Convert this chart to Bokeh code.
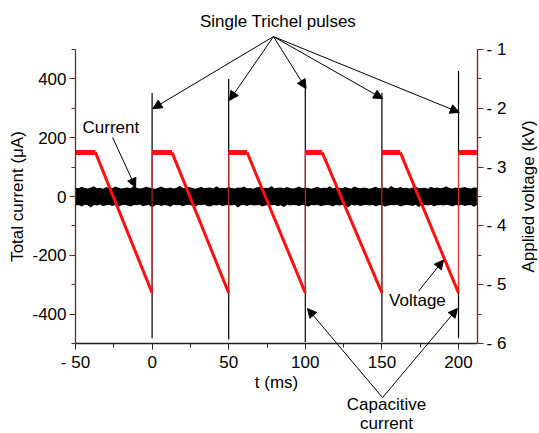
import math
from bokeh.plotting import figure
from bokeh.models import (Range1d, LinearAxis, FixedTicker, Label, Arrow, NormalHead)
from bokeh.embed import file_html
from bokeh.resources import INLINE

# ---------------- data ----------------
# current noise envelope (µA), sampled every 2 ms from -50 ms
noise_t = list(range(-50, 214, 2))
noise_upper = [
    30, 28, 33, 29, 27, 31, 35, 28, 30, 26, 32, 29,
    28, 34, 30, 27, 29, 31, 28, 36, 30, 27, 29, 33,
    31, 28, 26, 30, 34, 29, 28, 31, 27, 30, 37, 29,
    28, 32, 30, 26, 29, 33, 28, 30, 31, 27, 35, 29,
    30, 28, 32, 29, 27, 31, 30, 34, 28, 29, 26, 31,
    33, 28, 30, 29, 36, 27, 30, 31, 28, 32, 29, 27,
    30, 34, 28, 31, 29, 26, 30, 33, 28, 30, 29, 35,
    27, 31, 30, 28, 32, 29, 27, 34, 30, 28, 31, 29,
    26, 30, 33, 28, 29, 31, 27, 36, 30, 28, 32, 29,
    30, 27, 31, 34, 28, 29, 30, 26, 33, 29, 31, 28,
    30, 35, 29, 27, 31, 28, 30, 32, 29, 27, 31, 30]
noise_lower = [
    -31, -29, -34, -28, -30, -37, -29, -31, -27, -33, -30, -28,
    -32, -29, -36, -30, -28, -31, -34, -29, -30, -27, -33, -31,
    -29, -38, -30, -28, -32, -29, -31, -35, -28, -30, -29, -33,
    -30, -28, -31, -36, -29, -30, -27, -32, -34, -29, -31, -28,
    -33, -30, -29, -31, -28, -37, -30, -29, -32, -28, -31, -30,
    -29, -34, -31, -28, -30, -29, -33, -30, -36, -28, -31, -29,
    -30, -32, -28, -31, -35, -29, -30, -28, -33, -31, -29, -30,
    -34, -28, -31, -29, -30, -37, -28, -31, -29, -32, -30, -28,
    -31, -29, -33, -30, -28, -35, -31, -29, -30, -28, -34, -31,
    -29, -30, -32, -28, -36, -30, -29, -31, -28, -33, -30, -29,
    -31, -28, -30, -34, -29, -31, -28, -32, -30, -29, -35, -30]
noise_upper = noise_upper[:len(noise_t)]
noise_lower = noise_lower[:len(noise_t)]

# single Trichel pulses (ms, µA)
pulse_t = [0, 50, 100, 150, 200]
pulse_top = [352, 400, 369, 352, 427]
pulse_bottom = [-482, -486, -495, -495, -482]

# applied voltage (kV) - plateau then linear ramp in each period
period_start = [-50, 0, 50, 100, 150, 200]
flat_end = [-37, 13, 62, 111, 162, 212]
v_plateau = [2.75, 2.75, 2.75, 2.75, 2.75, 2.75]
ramp_end = [0, 50, 100, 150, 200]
v_ramp_end = [5.14, 5.14, 5.14, 5.14, 5.14]

# axes
t_min, t_max = -50, 212.4
i_min, i_max = -500, 500
v_top, v_bottom = 1, 6
x_ticks = [-50, 0, 50, 100, 150, 200]
x_minor = [-25, 25, 75, 125, 175]
x_tick_labels = ["- 50", "0", "50", "100", "150", "200"]
y_ticks = [-400, -200, 0, 200, 400]
y_minor = [-500, -300, -100, 100, 300, 500]
y_tick_labels = ["-400", "-200", "0", "200", "400"]
v_ticks = [1, 2, 3, 4, 5, 6]
v_minor = [1.5, 2.5, 3.5, 4.5, 5.5]
v_tick_labels = ["- 1", "- 2", "- 3", "- 4", "- 5", "- 6"]

FONT = "Liberation Sans"
FS = "17px"

# the frame covers the whole canvas; the axes sit at fixed data locations
p = figure(width=539, height=433, output_backend="svg", toolbar_location=None,
           x_range=Range1d(-98.96, 252.87), y_range=Range1d(-806.1, 666.7),
           min_border_left=0, min_border_right=0, min_border_top=0,
           min_border_bottom=0)
p.outline_line_color = None
p.grid.visible = False
p.background_fill_color = "white"
p.border_fill_color = "white"

p.extra_y_ranges = {"volt": Range1d(7.5305, 0.1665)}
raxis = LinearAxis(y_range_name="volt")
p.add_layout(raxis, "right")

def style_axis(ax, color):
    ax.axis_line_color = color
    ax.axis_line_width = 1.3
    ax.major_tick_line_color = color
    ax.minor_tick_line_color = color
    ax.major_tick_out = 6
    ax.major_tick_in = 0
    ax.minor_tick_out = 4
    ax.minor_tick_in = 0
    ax.major_label_text_font = FONT
    ax.major_label_text_font_size = FS
    ax.major_label_text_color = "black"

xa, ya = p.xaxis[0], p.yaxis[0]
style_axis(xa, "#222222")
style_axis(ya, "#5e2a2a")
style_axis(raxis, "#7d1f2a")

xa.fixed_location = i_min
xa.bounds = (t_min, t_max)
ya.fixed_location = t_min
ya.bounds = (i_min, i_max)
raxis.fixed_location = t_max
raxis.bounds = (v_top, v_bottom)

xa.ticker = FixedTicker(ticks=x_ticks, minor_ticks=x_minor)
xa.major_label_overrides = dict(zip(x_ticks, x_tick_labels))
ya.ticker = FixedTicker(ticks=y_ticks, minor_ticks=y_minor)
ya.major_label_overrides = dict(zip(y_ticks, y_tick_labels))
raxis.ticker = FixedTicker(ticks=v_ticks, minor_ticks=v_minor)
raxis.major_label_overrides = dict(zip(v_ticks, v_tick_labels))
xa.major_label_standoff = 3
ya.major_label_standoff = 3
raxis.major_label_standoff = 3

# current noise band
p.varea(x=noise_t, y1=noise_lower, y2=noise_upper, fill_color="black")

# pulses
p.segment(x0=pulse_t, y0=pulse_bottom, x1=pulse_t, y1=pulse_top,
          line_color="black", line_width=1.2)

# voltage: thin vertical jumps
p.segment(x0=ramp_end, y0=v_ramp_end, x1=ramp_end, y1=v_plateau[1:],
          line_color="#d83030", line_width=1, y_range_name="volt")
# plateaus
p.segment(x0=period_start, y0=v_plateau, x1=flat_end, y1=v_plateau,
          line_color="#ff1010", line_width=5, y_range_name="volt")
# ramps
p.segment(x0=flat_end[:-1], y0=v_plateau[:-1], x1=ramp_end, y1=v_ramp_end,
          line_color="#ff1010", line_width=3, y_range_name="volt")

# annotations
def lab(x, y, text, align="center", angle=0.0):
    p.add_layout(Label(x=x, y=y, text=text, text_font=FONT, text_font_size=FS,
                       text_align=align, text_baseline="middle", text_color="black",
                       angle=angle))

def arr(x0, y0, x1, y1):
    p.add_layout(Arrow(x_start=x0, y_start=y0, x_end=x1, y_end=y1,
                       line_color="black", line_width=1,
                       end=NormalHead(size=9, fill_color="black", line_color="black")))

# axis titles
lab(81.2, -633, "t (ms)")
lab(-87.9, 0, "Total current (\u03bcA)", angle=math.pi / 2)
lab(245.7, 0, "Applied voltage (kV)", angle=math.pi / 2)

lab(82.2, 595, "Single Trichel pulses")
trichel_end_y = [299, 327, 367, 333, 286]
for t, yy in zip(pulse_t, trichel_end_y):
    arr(79.2, 544, t + 0.5, yy)

lab(-45.4, 235, "Current", align="left")
arr(-25.8, 201, -10.8, 31)

lab(173.2, -354, "Voltage")
arr(173.9, -322, 190.2, -216)

lab(153.0, -708, "Capacitive")
lab(153.0, -772, "current")
arr(150.4, -684, 101.4, -381)
arr(150.4, -684, 199.3, -381)

open("out.html", "w").write(file_html(p, INLINE))
